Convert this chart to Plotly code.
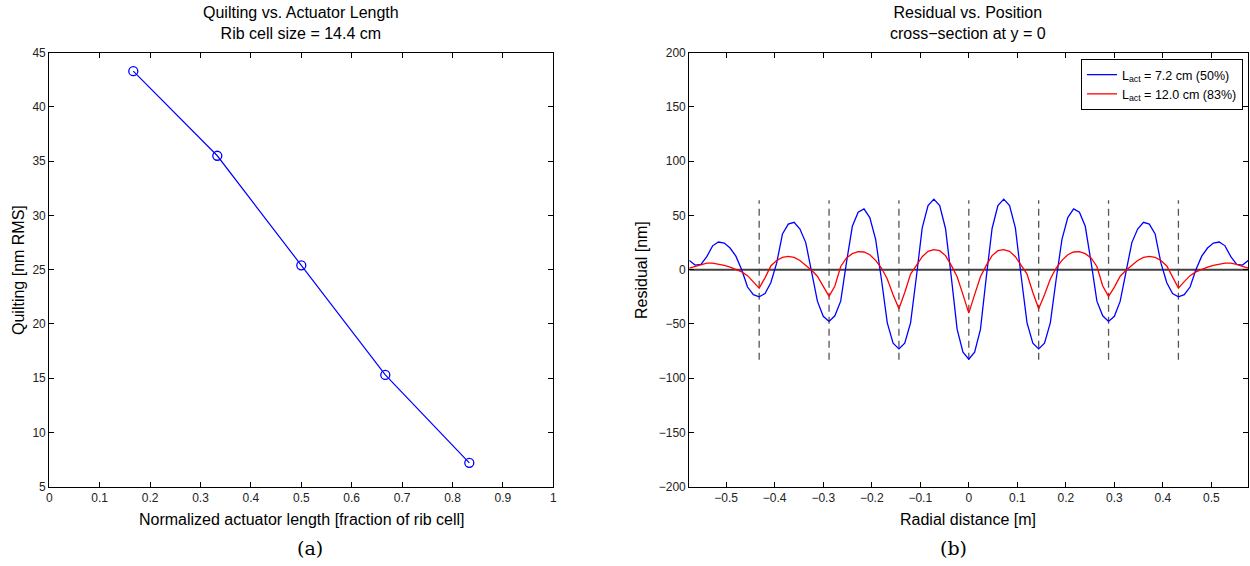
import plotly.graph_objects as go

# ---------------- data: panel (a) ----------------
act_frac = [1/6, 2/6, 3/6, 4/6, 5/6]
quilting_rms = [43.3, 35.5, 25.4, 15.3, 7.2]

# ---------------- data: panel (b) ----------------
radial_m = [-0.576, -0.564, -0.552, -0.540, -0.528, -0.516, -0.504, -0.492, -0.480, -0.468, -0.456, -0.444,
            -0.432, -0.420, -0.408, -0.396, -0.384, -0.372, -0.360, -0.348, -0.336, -0.324, -0.312, -0.300,
            -0.288, -0.276, -0.264, -0.252, -0.240, -0.228, -0.216, -0.204, -0.192, -0.180, -0.168, -0.156,
            -0.144, -0.132, -0.120, -0.108, -0.096, -0.084, -0.072, -0.060, -0.048, -0.036, -0.024, -0.012,
            0.000,
            0.012, 0.024, 0.036, 0.048, 0.060, 0.072, 0.084, 0.096, 0.108, 0.120, 0.132, 0.144,
            0.156, 0.168, 0.180, 0.192, 0.204, 0.216, 0.228, 0.240, 0.252, 0.264, 0.276, 0.288,
            0.300, 0.312, 0.324, 0.336, 0.348, 0.360, 0.372, 0.384, 0.396, 0.408, 0.420, 0.432,
            0.444, 0.456, 0.468, 0.480, 0.492, 0.504, 0.516, 0.528, 0.540, 0.552, 0.564, 0.576]

resid_50 = [8.5, 4.3, 5, 12, 22, 25.5, 24.5, 20, 12.5, 0, -16, -23,
            -25, -22, -12, 6, 33, 42, 43.7, 37.5, 25, -2, -29, -43,
            -47.7, -42.5, -29, 7, 40, 53, 56, 48, 28, -9, -49, -67.7,
            -73, -67.7, -49, -6.5, 38.5, 59, 65, 59, 38, -7, -55, -76,
            -82.5,
            -76, -55, -7, 38, 59, 65, 59, 38.5, -6.5, -49, -67.7, -73,
            -67.7, -49, -9, 28, 48, 56, 53, 40, 7, -29, -42.5, -47.7,
            -43, -29, -2, 25, 37.5, 43.7, 42, 33, 6, -12, -22, -25,
            -23, -16, 0, 12.5, 20, 24.5, 25.5, 22, 12, 5, 4.3, 8.5]

resid_83 = [1.5, 3, 5, 6, 6, 5.3, 4, 2.3, 0.3, -2, -5.5, -11,
            -17, -7.5, 3.5, 8.5, 11.3, 12.2, 11.3, 8.5, 4, -0.5, -6, -16,
            -24.6, -15, 3, 10.8, 14.8, 16.6, 16.3, 13.8, 8.6, 1.5, -8.6, -23,
            -36, -21, -4, 4, 12, 17, 18.5, 17.5, 13, 4, -6.5, -23,
            -40,
            -23, -6.5, 4, 13, 17.5, 18.5, 17, 12, 4, -4, -21, -36,
            -23, -8.6, 1.5, 8.6, 13.8, 16.3, 16.6, 14.8, 10.8, 3, -15, -24.6,
            -16, -6, -0.5, 4, 8.5, 11.3, 12.2, 11.3, 8.5, 3.5, -7.5, -17,
            -11, -5.5, -2, 0.3, 2.3, 4, 5.3, 6, 6, 5, 3, 1.5]

rib_positions = [-0.432, -0.288, -0.144, 0.0, 0.144, 0.288, 0.432]
rib_span = [-83, 64]
label_50 = "L<sub>act</sub> = 7.2 cm (50%)"
label_83 = "L<sub>act</sub> = 12.0 cm (83%)"

W, H = 1250, 566
def px(x): return x / W
def py(y): return 1 - y / H

FONT = "Liberation Sans, Arial, sans-serif"
fig = go.Figure()

# panel (a)
fig.add_trace(go.Scatter(x=act_frac, y=quilting_rms, mode="lines+markers",
                         line=dict(color="#0000ff", width=1.2),
                         marker=dict(symbol="circle-open", size=9, color="#0000ff",
                                     line=dict(width=1.3, color="#0000ff")),
                         showlegend=False, xaxis="x", yaxis="y"))

# panel (b): rib dashed lines
for r in rib_positions:
    fig.add_trace(go.Scatter(x=[r, r], y=rib_span, mode="lines",
                             line=dict(color="#555555", width=1.3, dash="7px,5px"),
                             showlegend=False, hoverinfo="skip", xaxis="x2", yaxis="y2"))
# zero line
fig.add_trace(go.Scatter(x=[radial_m[0], radial_m[-1]], y=[0, 0], mode="lines",
                         line=dict(color="#404040", width=2),
                         showlegend=False, hoverinfo="skip", xaxis="x2", yaxis="y2"))
fig.add_trace(go.Scatter(x=radial_m, y=resid_50, mode="lines", name=label_50,
                         line=dict(color="#0000ff", width=1.3), xaxis="x2", yaxis="y2"))
fig.add_trace(go.Scatter(x=radial_m, y=resid_83, mode="lines", name=label_83,
                         line=dict(color="#ff0000", width=1.3), xaxis="x2", yaxis="y2"))

axis_common = dict(showline=True, linecolor="black", linewidth=1.2, mirror="ticks",
                   ticks="inside", ticklen=5, tickcolor="black", showgrid=False,
                   zeroline=False, automargin=False,
                   tickfont=dict(family=FONT, size=12, color="#222"))

top, bot = 52.7, 486.7
fig.update_layout(
    width=W, height=H, autosize=False, margin=dict(l=0, r=0, t=0, b=0, pad=0),
    paper_bgcolor="white", plot_bgcolor="white",
    font=dict(family=FONT),
    xaxis=dict(domain=[px(49.3), px(553.3)], range=[0, 1], tickvals=[0, .1, .2, .3, .4, .5, .6, .7, .8, .9, 1],
               ticktext=["0", "0.1", "0.2", "0.3", "0.4", "0.5", "0.6", "0.7", "0.8", "0.9", "1"],
               anchor="y", **axis_common),
    yaxis=dict(domain=[py(bot), py(top)], range=[5, 45], tickvals=[5, 10, 15, 20, 25, 30, 35, 40, 45],
               anchor="x", **axis_common),
    xaxis2=dict(domain=[px(689.3), px(1248.3)], range=[-0.576, 0.576],
                tickvals=[-0.5, -0.4, -0.3, -0.2, -0.1, 0, 0.1, 0.2, 0.3, 0.4, 0.5],
                ticktext=["\u22120.5", "\u22120.4", "\u22120.3", "\u22120.2", "\u22120.1", "0",
                          "0.1", "0.2", "0.3", "0.4", "0.5"],
                anchor="y2", **axis_common),
    yaxis2=dict(domain=[py(bot), py(top)], range=[-200, 200],
                tickvals=[-200, -150, -100, -50, 0, 50, 100, 150, 200],
                ticktext=["\u2212200", "\u2212150", "\u2212100", "\u221250", "0", "50", "100", "150", "200"],
                anchor="x2", **axis_common),
    legend=dict(x=px(1243), y=py(59), xanchor="right", yanchor="top",
                bgcolor="white", bordercolor="black", borderwidth=1,
                font=dict(family=FONT, size=12.5, color="black"),
                tracegroupgap=0),
)

ann = []
def text(x, y, s, size, **kw):
    ann.append(dict(x=px(x), y=py(y), xref="paper", yref="paper", text=s, showarrow=False,
                    xanchor="center", yanchor="middle",
                    font=dict(family=kw.pop("family", FONT), size=size, color="black"), **kw))

text(301, 23, "Quilting vs. Actuator Length<br>Rib cell size = 14.4 cm", 16)
text(968, 23, "Residual vs. Position<br>cross\u2212section at y = 0", 16)
text(301, 519, "Normalized actuator length [fraction of rib cell]", 16)
text(968, 519, "Radial distance [m]", 16)
text(18, 270, "Quilting [nm RMS]", 16, textangle=-90)
text(641, 270, "Residual [nm]", 16, textangle=-90)
text(310, 548, "(a)", 19, family="DejaVu Serif, serif")
text(953, 548, "(b)", 19, family="DejaVu Serif, serif")
fig.update_layout(annotations=ann)

fig.write_html("out.html", config={"displayModeBar": False},
               post_script="document.body.style.margin='0px';")
